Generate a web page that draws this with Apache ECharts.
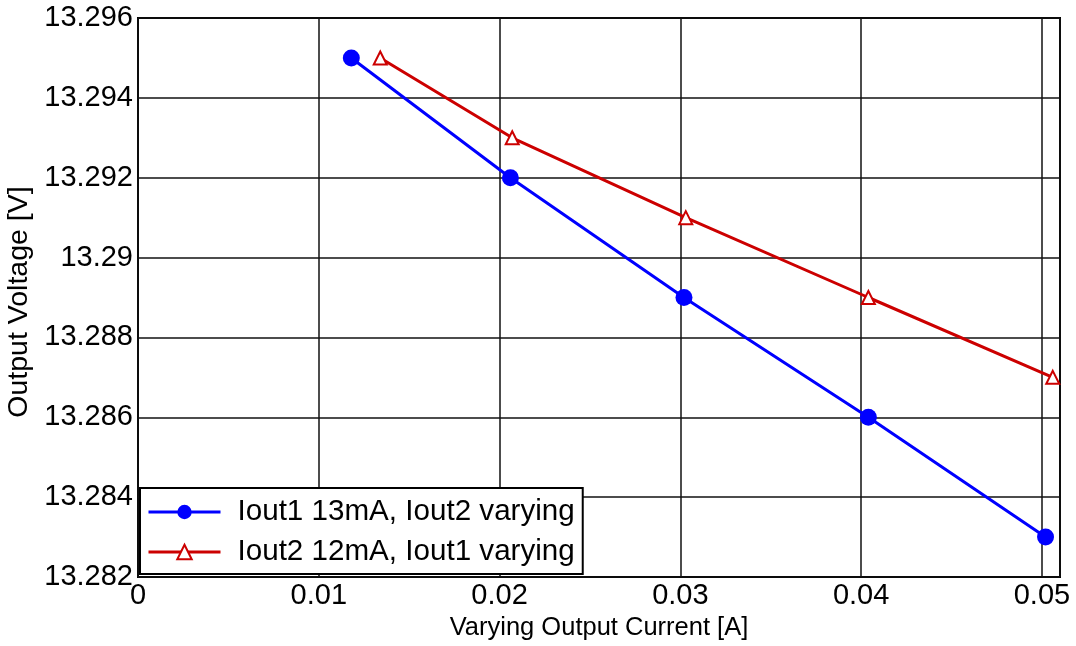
<!DOCTYPE html>
<html>
<head>
<meta charset="utf-8">
<script src="https://cdn.jsdelivr.net/npm/echarts@6/dist/echarts.min.js"></script>
<style>
  html, body { margin: 0; padding: 0; background: #fff; }
  #chart { width: 1076px; height: 646px; }
</style>
</head>
<body>
<div id="chart"></div>
<script>
// Output voltage vs. varying output current, two load configurations
const seriesNames = ['Iout1 13mA, Iout2 varying', 'Iout2 12mA, Iout1 varying'];
const currentA = [0.0118, 0.0206, 0.0302, 0.0404, 0.0502];
const voltageA = [13.295, 13.292, 13.289, 13.286, 13.283];
const currentB = [0.0134, 0.0207, 0.0303, 0.0404, 0.0506];
const voltageB = [13.295, 13.293, 13.291, 13.289, 13.287];

const font = '"Liberation Sans", Arial, sans-serif';
const pairs = (xs, ys) => xs.map((x, i) => [x, ys[i]]);
const trim = v => String(parseFloat(v.toFixed(3)));

const chart = echarts.init(document.getElementById('chart'));
chart.setOption({
  animation: false,
  backgroundColor: '#fff',
  grid: {
    left: 138, right: 16, top: 18, bottom: 69,
    containLabel: false, outerBoundsMode: 'none',
    show: true, borderColor: '#000', borderWidth: 2, backgroundColor: 'transparent'
  },
  xAxis: {
    type: 'value', min: 0, max: 0.051, interval: 0.01,
    name: 'Varying Output Current [A]', nameLocation: 'middle', nameGap: 38,
    nameTextStyle: { fontFamily: font, fontSize: 25.5, color: '#000' },
    axisLine: { show: false }, axisTick: { show: false },
    axisLabel: { fontFamily: font, fontSize: 29, color: '#000', margin: 4, showMaxLabel: false, formatter: trim },
    splitLine: { show: true, lineStyle: { color: '#111', width: 1.5 } }
  },
  yAxis: {
    type: 'value', min: 13.282, max: 13.296, interval: 0.002,
    name: 'Output Voltage [V]', nameLocation: 'middle', nameGap: 91,
    nameTextStyle: { fontFamily: font, fontSize: 28.5, color: '#000', padding: [0, 9, 0, 0] },
    axisLine: { show: false }, axisTick: { show: false },
    axisLabel: { fontFamily: font, fontSize: 29, color: '#000', margin: 5, formatter: trim },
    splitLine: { show: true, lineStyle: { color: '#111', width: 1.5 } }
  },
  legend: {
    left: 140, top: 488, orient: 'vertical',
    itemWidth: 72, itemHeight: 18, itemGap: 10,
    padding: [9, 8, 7, 7],
    borderColor: '#000', borderWidth: 2, backgroundColor: '#fff',
    lineStyle: { width: 3 },
    textStyle: { fontFamily: font, fontSize: 29.6, color: '#000', padding: [0, 0, 0, 12] },
    data: seriesNames
  },
  series: [
    {
      name: seriesNames[0], type: 'line', data: pairs(currentA, voltageA),
      symbol: 'circle', symbolSize: 17,
      itemStyle: { color: '#0000ff' },
      lineStyle: { color: '#0000ff', width: 3 }
    },
    {
      name: seriesNames[1], type: 'line', data: pairs(currentB, voltageB),
      symbol: 'triangle', symbolSize: 13,
      itemStyle: { color: '#fff', borderColor: '#cc0000', borderWidth: 2 },
      lineStyle: { color: '#cc0000', width: 3 }
    }
  ]
});
</script>
</body>
</html>
